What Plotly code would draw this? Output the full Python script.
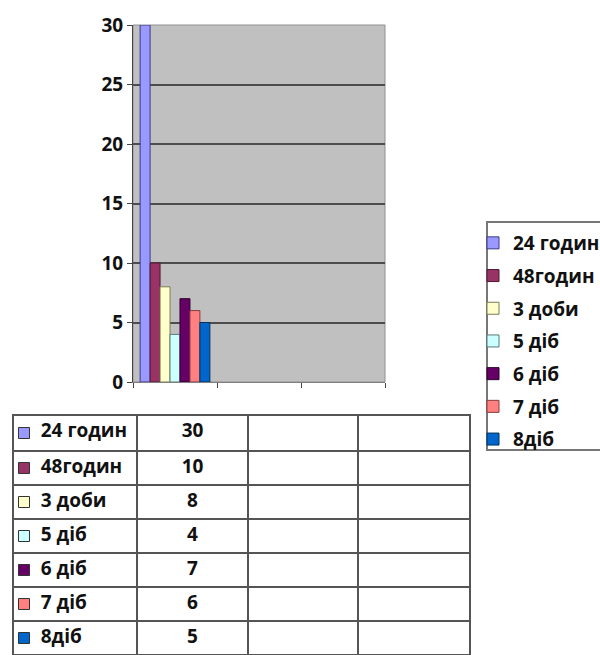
import plotly.graph_objects as go

# Series shown in the chart (one value each, in the first category column)
series_names = ["24 годин", "48годин", "3 доби", "5 діб", "6 діб", "7 діб", "8діб"]
series_values = [30, 10, 8, 4, 7, 6, 5]
series_colors = ["#9999FF", "#993366", "#FFFFCC", "#CCFFFF", "#660066", "#FF8080", "#0066CC"]
series_edges = ["#3a3a8a", "#4d1a33", "#7a7a55", "#5a7a7a", "#2a002a", "#8a3a3a", "#00335f"]

# Category slots on the x axis (only the first one holds data)
categories = [0, 1, 2]
y_ticks = [0, 5, 10, 15, 20, 25, 30]

FONT = "'Open Sans', Lato, sans-serif"
W, H = 600, 655
ML, MR = 13, 130
PW = W - ML - MR

TABLE_TOP = 415
HEADER_H = 36
ROW_H = 34

fig = go.Figure()

for name, val, col, edge in zip(series_names, series_values, series_colors, series_edges):
    fig.add_trace(go.Bar(
        x=[categories[0]], y=[val], name=name,
        marker=dict(color=col, line=dict(color=edge, width=1)),
        legendgroup=name,
        xaxis="x", yaxis="y",
    ))

# Data table under the chart: first row goes in the header, the rest in cells.
# Non-breaking spaces keep every label on a single line.
NBSP = "\u00a0"
first_col = [NBSP * 4 + n.replace(" ", NBSP) for n in series_names]
second_col = [str(v) for v in series_values]
empty_col = ["" for _ in series_names]
cols = [first_col, second_col, empty_col, empty_col]

cell_font = dict(family=FONT, size=19, color="#111111", weight=700)
cell_line = dict(color="#555555", width=2)
aligns = ["left", "center", "center", "center"]

fig.add_trace(go.Table(
    domain=dict(x=[0, 1], y=[0, (H - TABLE_TOP) / H]),
    columnwidth=[124, 111, 110, 112],
    header=dict(values=[c[0] for c in cols], height=HEADER_H, align=aligns,
                line=cell_line, fill=dict(color="rgba(0,0,0,0)"), font=cell_font),
    cells=dict(values=[c[1:] for c in cols], height=ROW_H, align=aligns,
               line=cell_line, fill=dict(color="rgba(0,0,0,0)"), font=cell_font),
))

# Colour keys in the first table column, one per row.
# y2 is measured in pixels down from the top of the table.
row_centres = [HEADER_H / 2] + [HEADER_H + ROW_H * (i - 0.5) for i in range(1, len(series_names))]
fig.add_trace(go.Scatter(
    x=[11] * len(series_names), y=row_centres,
    mode="markers",
    marker=dict(symbol="square", size=11, color=series_colors,
                line=dict(color="#333333", width=1)),
    xaxis="x2", yaxis="y2", showlegend=False, hoverinfo="skip",
))

table_h = H - TABLE_TOP
fig.update_layout(
    width=W, height=H,
    margin=dict(l=ML, r=MR, t=0, b=0, autoexpand=False),
    paper_bgcolor="white",
    plot_bgcolor="rgba(0,0,0,0)",
    barmode="group",
    bargap=0.17,
    bargroupgap=0,
    font=dict(family=FONT, color="#111111"),
    showlegend=True,
    legend=dict(
        x=(473 - ML) / PW, xanchor="left",
        y=(H - 224) / H, yanchor="top",
        borderwidth=0,
        bgcolor="rgba(0,0,0,0)",
        font=dict(family=FONT, size=19, color="#111111", weight=700),
        traceorder="grouped",
        tracegroupgap=5,
        itemwidth=30,
    ),
    xaxis=dict(
        domain=[(133 - ML) / PW, (385 - ML) / PW],
        range=[-0.5, 2.5],
        tickmode="array", tickvals=[-0.5, 0.5, 1.5, 2.5],
        showticklabels=False,
        ticks="outside", ticklen=5, tickcolor="#444444",
        showline=True, linecolor="#808080", linewidth=1,
        showgrid=False, zeroline=False,
    ),
    yaxis=dict(
        domain=[(H - 382) / H, (H - 25) / H],
        range=[0, 30],
        tickmode="array", tickvals=y_ticks,
        ticks="outside", ticklen=5, tickcolor="#444444",
        tickfont=dict(family=FONT, size=19, color="#111111", weight=700),
        showline=True, linecolor="#444444", linewidth=1,
        showgrid=True, gridcolor="#4d4d4d", gridwidth=2,
        zeroline=False,
    ),
    xaxis2=dict(domain=[0, 1], range=[0, PW], visible=False, fixedrange=True),
    yaxis2=dict(domain=[0, table_h / H], range=[table_h, 0],
                visible=False, fixedrange=True),
    shapes=[
        # grey plot area
        dict(type="rect", xref="x domain", yref="y domain", x0=0, x1=1, y0=0, y1=1,
             fillcolor="#C0C0C0", line=dict(color="#909090", width=1), layer="below"),
        # legend frame
        dict(type="rect", xref="paper", yref="paper",
             x0=(487 - ML) / PW, x1=(640 - ML) / PW,
             y0=(H - 450) / H, y1=(H - 222) / H,
             line=dict(color="#777777", width=2), fillcolor="rgba(0,0,0,0)"),
    ],
)

fig.write_html("out.html")
